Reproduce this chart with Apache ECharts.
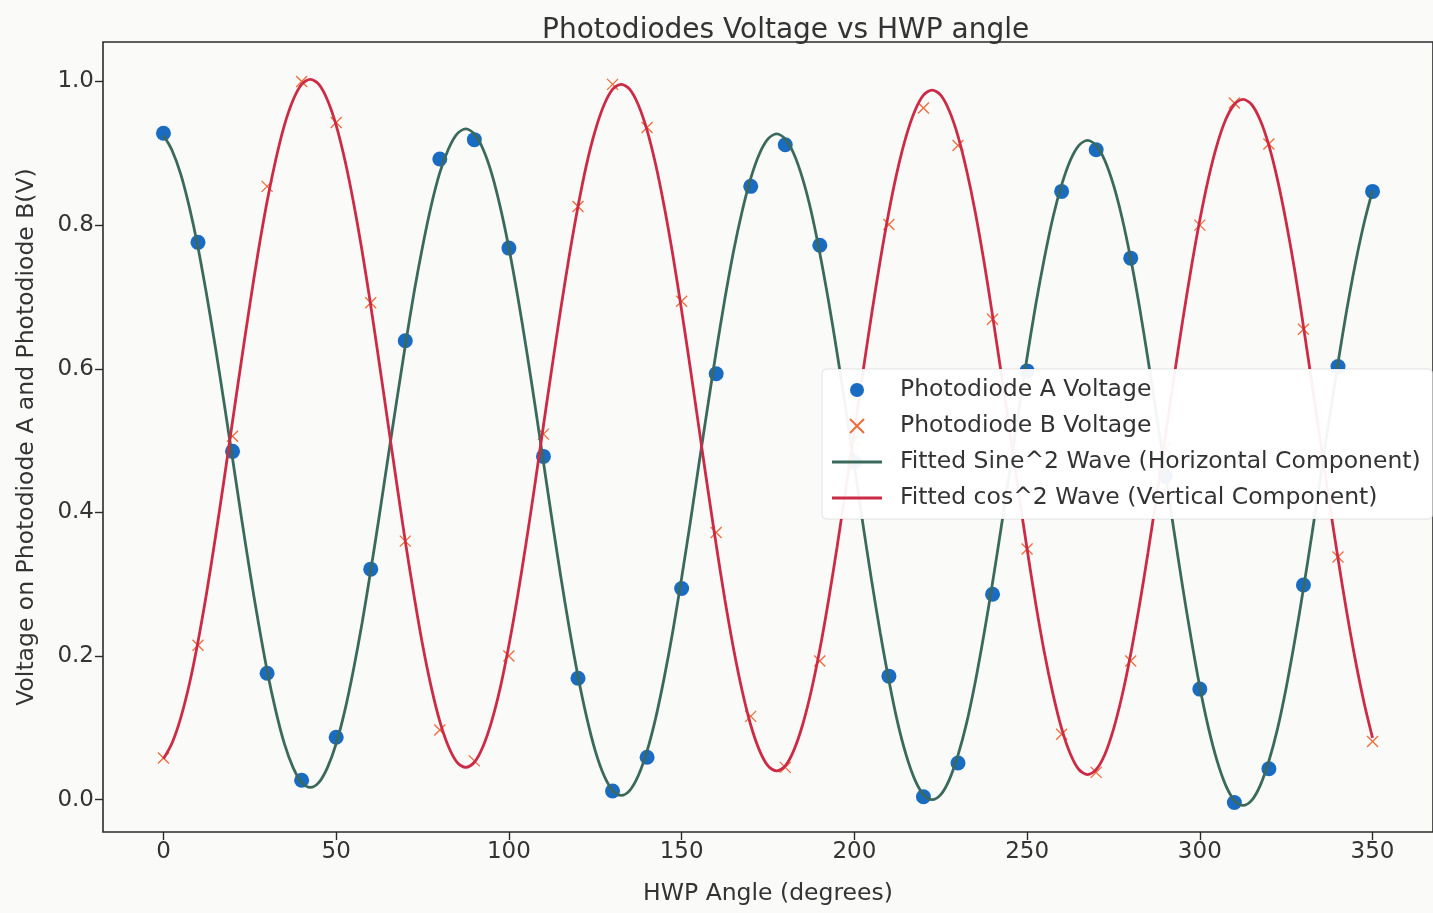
<!DOCTYPE html>
<html>
<head>
<meta charset="utf-8">
<script src="https://cdn.jsdelivr.net/npm/echarts@6/dist/echarts.min.js"></script>
<style>
  html, body { margin: 0; padding: 0; background: #fafaf9; }
  #chart { width: 1433px; height: 913px; }
</style>
</head>
<body>
<div id="chart"></div>
<script>
// measured HWP angles (deg)
const angles = [0, 10, 20, 30, 40, 50, 60, 70, 80, 90, 100, 110, 120, 130, 140, 150, 160, 170,
                180, 190, 200, 210, 220, 230, 240, 250, 260, 270, 280, 290, 300, 310, 320, 330, 340, 350]
// photodiode A (dots) and B (crosses), volts
const voltA = [0.928, 0.776, 0.485, 0.176, 0.027, 0.087, 0.321, 0.639, 0.892, 0.919, 0.768, 0.478,
               0.169, 0.012, 0.059, 0.294, 0.593, 0.854, 0.912, 0.772, 0.47, 0.172, 0.004, 0.051,
               0.286, 0.597, 0.847, 0.905, 0.754, 0.45, 0.154, -0.004, 0.043, 0.299, 0.603, 0.847]
const voltB = [0.058, 0.215, 0.506, 0.854, 1.0, 0.943, 0.692, 0.36, 0.097, 0.054, 0.2, 0.509,
               0.826, 0.996, 0.936, 0.694, 0.372, 0.116, 0.045, 0.193, 0.5, 0.801, 0.963, 0.911,
               0.669, 0.349, 0.091, 0.038, 0.193, 0.49, 0.8, 0.97, 0.913, 0.655, 0.338, 0.081]

// fitted curves every 2.5 deg (0..350)
const fitStep = 2.5
const fitA = [
    0.925, 0.904, 0.871, 0.825, 0.769, 0.703, 0.631, 0.554, 0.475, 0.395, 0.318, 0.246, 0.180, 0.124, 0.078, 0.045, 0.024, 0.017,
    0.024, 0.045, 0.078, 0.124, 0.181, 0.246, 0.319, 0.396, 0.476, 0.555, 0.632, 0.705, 0.770, 0.827, 0.873, 0.906, 0.927, 0.934,
    0.927, 0.906, 0.872, 0.825, 0.768, 0.702, 0.629, 0.551, 0.470, 0.389, 0.311, 0.238, 0.172, 0.115, 0.068, 0.034, 0.013, 0.006,
    0.013, 0.034, 0.068, 0.114, 0.171, 0.236, 0.309, 0.386, 0.467, 0.546, 0.624, 0.697, 0.763, 0.819, 0.865, 0.899, 0.920, 0.927,
    0.920, 0.899, 0.865, 0.819, 0.761, 0.695, 0.622, 0.544, 0.464, 0.383, 0.305, 0.232, 0.166, 0.108, 0.062, 0.028, 0.007, 0.000,
    0.007, 0.028, 0.062, 0.107, 0.164, 0.230, 0.302, 0.379, 0.459, 0.539, 0.616, 0.689, 0.754, 0.811, 0.856, 0.890, 0.911, 0.918,
    0.911, 0.890, 0.856, 0.810, 0.753, 0.687, 0.613, 0.535, 0.455, 0.375, 0.297, 0.224, 0.157, 0.100, 0.054, 0.020, -0.001, -0.008,
    -0.001, 0.020, 0.054, 0.099, 0.156, 0.222, 0.294, 0.371, 0.451, 0.531, 0.608, 0.681, 0.746, 0.802, 0.848
]
const fitB = [
    0.057, 0.079, 0.114, 0.161, 0.220, 0.288, 0.364, 0.444, 0.527, 0.609, 0.689, 0.765, 0.833, 0.891, 0.939, 0.974, 0.996, 1.003,
    0.996, 0.974, 0.939, 0.891, 0.832, 0.764, 0.688, 0.607, 0.524, 0.441, 0.360, 0.285, 0.216, 0.157, 0.109, 0.074, 0.052, 0.045,
    0.052, 0.074, 0.109, 0.156, 0.215, 0.283, 0.358, 0.438, 0.521, 0.603, 0.683, 0.758, 0.826, 0.885, 0.932, 0.967, 0.989, 0.996,
    0.989, 0.967, 0.932, 0.884, 0.825, 0.757, 0.681, 0.601, 0.518, 0.435, 0.355, 0.279, 0.211, 0.152, 0.104, 0.069, 0.047, 0.040,
    0.047, 0.069, 0.104, 0.151, 0.209, 0.277, 0.352, 0.432, 0.514, 0.596, 0.676, 0.751, 0.819, 0.877, 0.924, 0.959, 0.981, 0.988,
    0.981, 0.959, 0.924, 0.876, 0.818, 0.750, 0.674, 0.594, 0.512, 0.429, 0.349, 0.273, 0.205, 0.147, 0.099, 0.064, 0.042, 0.035,
    0.042, 0.063, 0.098, 0.145, 0.203, 0.270, 0.344, 0.423, 0.505, 0.587, 0.666, 0.740, 0.807, 0.865, 0.912, 0.947, 0.968, 0.975,
    0.968, 0.946, 0.911, 0.863, 0.804, 0.736, 0.659, 0.578, 0.496, 0.414, 0.336, 0.262, 0.195, 0.136, 0.086
]

const xTicks = [0, 50, 100, 150, 200, 250, 300, 350]
const yTicks = [0, 0.2, 0.4, 0.6, 0.8, 1.0]

const seriesNames = [
    'Photodiode A Voltage',
    'Photodiode B Voltage',
    'Fitted Sine^2 Wave (Horizontal Component)',
    'Fitted cos^2 Wave (Vertical Component)'
]

const FONT = '"DejaVu Sans", "Liberation Sans", sans-serif'
const TXT = '#333333'
const C_A = '#1a6cc2'
const C_B = '#ee6b3a'
const C_FITA = '#3b6a5d'
const C_FITB = '#cc2a45'
const LEGEND_BAR = 'path://M0 0H50V3H0Z'

const pairs = (xs, ys) => ys.map((v, i) => [xs[i], v])
const fitX = fitA.map((_, i) => i * fitStep)

const chart = echarts.init(document.getElementById('chart'), null, { renderer: 'canvas' })

chart.setOption({
    backgroundColor: '#fafaf9',
    animation: false,
    textStyle: { fontFamily: FONT, color: TXT },
    title: {
        text: 'Photodiodes Voltage vs HWP angle',
        left: 537,
        top: 12,
        textStyle: { fontFamily: FONT, fontSize: 28, fontWeight: 'normal', color: TXT }
    },
    grid: {
        left: 103, right: -24, top: 42, bottom: 81,
        show: true,
        backgroundColor: 'transparent',
        borderColor: '#2b2b2b',
        borderWidth: 1.6
    },
    legend: {
        orient: 'vertical',
        left: 822,
        top: 369,
        padding: [8, 12, 8, 10],
        itemWidth: 50,
        itemHeight: 14,
        itemGap: 10,
        backgroundColor: 'rgba(255,255,255,0.94)',
        borderColor: 'rgba(0,0,0,0.10)',
        borderWidth: 1,
        borderRadius: 4,
        data: [
            { name: seriesNames[0] },
            { name: seriesNames[1] },
            { name: seriesNames[2], icon: LEGEND_BAR },
            { name: seriesNames[3], icon: LEGEND_BAR }
        ],
        textStyle: { fontFamily: FONT, fontSize: 23.5, color: TXT, lineHeight: 26, padding: [0, 0, 0, 13] }
    },
    xAxis: {
        type: 'value',
        min: -17.5,
        max: 367.5,
        name: 'HWP Angle (degrees)',
        nameLocation: 'middle',
        nameGap: 50,
        nameTextStyle: { fontFamily: FONT, fontSize: 23.5, color: TXT },
        axisLine: { show: false, onZero: false },
        splitLine: { show: false },
        axisTick: { show: true, inside: false, length: 8, lineStyle: { color: '#2b2b2b', width: 1.4 }, customValues: xTicks },
        axisLabel: { fontFamily: FONT, fontSize: 23, color: TXT, margin: 9, customValues: xTicks }
    },
    yAxis: {
        type: 'value',
        min: -0.045,
        max: 1.055,
        name: 'Voltage on Photodiode A and Photodiode B(V)',
        nameLocation: 'middle',
        nameGap: 64,
        nameTextStyle: { fontFamily: FONT, fontSize: 23.5, color: TXT },
        axisLine: { show: false, onZero: false },
        splitLine: { show: false },
        axisTick: { show: true, inside: false, length: 8, lineStyle: { color: '#2b2b2b', width: 1.4 }, customValues: yTicks },
        axisLabel: {
            fontFamily: FONT, fontSize: 23, color: TXT, margin: 9,
            customValues: yTicks,
            formatter: v => v.toFixed(1)
        }
    },
    series: [
        {
            name: seriesNames[0],
            type: 'scatter',
            z: 1,
            symbol: 'circle',
            symbolSize: 15,
            itemStyle: { color: C_A, opacity: 1 },
            data: pairs(angles, voltA)
        },
        {
            name: seriesNames[1],
            type: 'scatter',
            z: 1,
            symbol: 'path://M0 0L10 10M10 0L0 10',
            symbolSize: 11,
            itemStyle: { color: 'rgba(0,0,0,0)', borderColor: C_B, borderWidth: 1.3, opacity: 1 },
            data: pairs(angles, voltB)
        },
        {
            name: seriesNames[2],
            type: 'line',
            z: 3,
            smooth: 0.3,
            symbol: 'none',
            lineStyle: { color: C_FITA, width: 2.8 },
            itemStyle: { color: C_FITA },
            data: pairs(fitX, fitA)
        },
        {
            name: seriesNames[3],
            type: 'line',
            z: 3,
            smooth: 0.3,
            symbol: 'none',
            lineStyle: { color: C_FITB, width: 2.8 },
            itemStyle: { color: C_FITB },
            data: pairs(fitX, fitB)
        }
    ]
})

window.addEventListener('resize', () => chart.resize())
</script>
</body>
</html>
